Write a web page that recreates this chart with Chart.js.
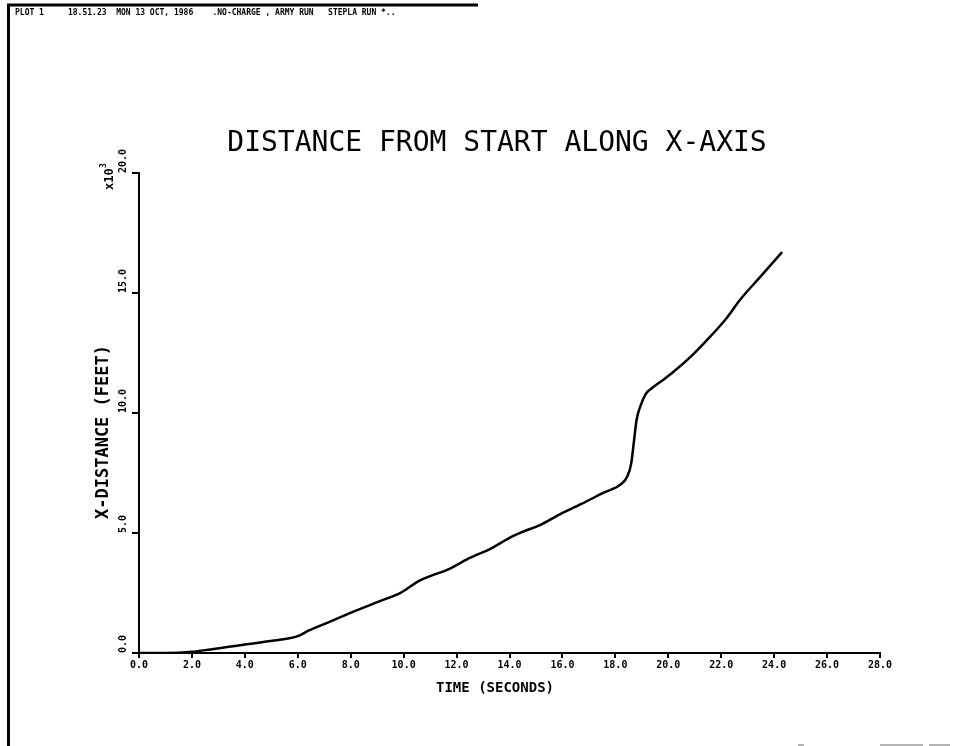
<!DOCTYPE html>
<html>
<head>
<meta charset="utf-8">
<script src="https://cdn.jsdelivr.net/npm/chart.js@4.4.1/dist/chart.umd.min.js"></script>
<style>
	html, body { margin:0; padding:0; background:#fff; }
</style>
</head>
<body>
<canvas id="distChart" width="953" height="746"></canvas>
<script>
// time along the run, seconds
var timeSec = [
	0.0, 1.0, 2.0, 2.7, 3.4, 4.0, 4.7, 5.4, 6.0, 6.4,
	7.2, 8.1, 9.0, 9.9, 10.6, 11.0, 11.75, 12.5, 13.3, 14.0,
	14.5, 15.15, 15.9, 16.7, 17.5, 18.25, 18.45, 18.6, 18.7, 18.8,
	18.95, 19.15, 19.4, 19.8, 20.2, 20.9, 21.6, 22.2, 22.7, 23.5,
	24.3
]
// x-distance from start, thousands of feet
var distKft = [
	0.0, 0.0, 0.05, 0.15, 0.26, 0.35, 0.46, 0.56, 0.7, 0.93,
	1.3, 1.72, 2.12, 2.52, 3.02, 3.2, 3.52, 3.96, 4.35, 4.8,
	5.05, 5.33, 5.78, 6.2, 6.65, 7.07, 7.35, 7.9, 8.8, 9.7,
	10.3, 10.8, 11.05, 11.38, 11.72, 12.4, 13.2, 13.95, 14.7, 15.7,
	16.7
]
var yTickVals = [0, 5, 10, 15, 20]

var headerText = 'PLOT 1     18.51.23  MON 13 OCT, 1986    .NO-CHARGE , ARMY RUN   STEPLA RUN *..'
var titleText = 'DISTANCE FROM START ALONG X-AXIS'
var xTitle = 'TIME (SECONDS)'
var yTitle = 'X-DISTANCE (FEET)'

var MONO = '"DejaVu Sans Mono", monospace'

function getPoints() {
	var pts = []
	for( var i = 0; i < timeSec.length; i++ ) {
		pts.push({ x:timeSec[i], y:distKft[i] })
	}
	return pts
}

// frame, header line, titles and the sideways y labels
var plotterText = {
	id: 'plotterText',
	afterDraw: function( chart ) {
		var ctx = chart.ctx
		var ys = chart.scales.y
		ctx.save()
		ctx.fillStyle = '#000'
		ctx.strokeStyle = '#000'

		// page border, left and top
		ctx.lineWidth = 3
		ctx.beginPath()
		ctx.moveTo(8.5, 746)
		ctx.lineTo(8.5, 5)
		ctx.lineTo(478, 5)
		ctx.stroke()

		ctx.font = 'bold 8px ' + MONO
		ctx.textBaseline = 'middle'
		ctx.textAlign = 'left'
		ctx.fillText(headerText, 15, 13)

		ctx.font = '28px ' + MONO
		ctx.textAlign = 'center'
		ctx.fillText(titleText, 497, 144)

		ctx.font = 'bold 14px ' + MONO
		ctx.fillText(xTitle, 495, 688)

		// rotated text on the left of the y axis
		ctx.save()
		ctx.translate(104, 432)
		ctx.rotate(-Math.PI / 2)
		ctx.font = 'bold 17px ' + MONO
		ctx.textAlign = 'center'
		ctx.fillText(yTitle, 0, 0)
		ctx.restore()

		ctx.font = 'bold 10px ' + MONO
		for( var i = 0; i < yTickVals.length; i++ ) {
			var py = ys.getPixelForValue(yTickVals[i])
			ctx.save()
			ctx.translate(123, py)
			ctx.rotate(-Math.PI / 2)
			ctx.textAlign = 'left'
			ctx.fillText(yTickVals[i].toFixed(1), 0, 0)
			ctx.restore()
		}

		// multiplier
		ctx.save()
		ctx.translate(110, ys.getPixelForValue(20) + 17)
		ctx.rotate(-Math.PI / 2)
		ctx.font = 'bold 12px ' + MONO
		ctx.textAlign = 'left'
		ctx.fillText('x10', 0, 0)
		ctx.font = 'bold 8px ' + MONO
		ctx.fillText('3', 22, -6)
		ctx.restore()

		// scanner marks along the bottom edge
		ctx.fillStyle = '#b4b4b4'
		ctx.fillRect(798, 744, 6, 2)
		ctx.fillRect(880, 744, 43, 2)
		ctx.fillRect(929, 744, 21, 2)

		ctx.restore()
	}
}

var config = {
	type: 'line',
	data: {
		datasets: [
			{
				label: 'x-distance',
				data: getPoints(),
				borderColor: '#000',
				borderWidth: 2.5,
				pointRadius: 0,
				fill: false,
				cubicInterpolationMode: 'monotone'
			}
		]
	},
	options: {
		responsive: false,
		animation: false,
		layout: { padding: { left:0, right:73, top:173, bottom:0 } },
		plugins: {
			legend: { display:false },
			tooltip: { enabled:false },
			title: { display:false }
		},
		scales: {
			x: {
				type: 'linear',
				min: 0,
				max: 28,
				ticks: {
					stepSize: 2,
					color: '#000',
					padding: 1,
					maxRotation: 0,
					font: { family: MONO, size: 10, weight: 'bold' },
					callback: function( v ) { return v.toFixed(1) }
				},
				grid: { drawOnChartArea:false, drawTicks:true, tickLength:5, color:'#000', lineWidth:2 },
				border: { display:true, color:'#000', width:2 },
				afterFit: function( scale ) { scale.height = 93 }
			},
			y: {
				type: 'linear',
				min: 0,
				max: 20,
				ticks: { stepSize:5, display:false },
				grid: { drawOnChartArea:false, drawTicks:true, tickLength:7, color:'#000', lineWidth:2 },
				border: { display:true, color:'#000', width:2 },
				afterFit: function( scale ) { scale.width = 139 }
			}
		}
	},
	plugins: [plotterText]
}

var ctx = document.getElementById('distChart')
var myChart = new Chart( ctx, config )
</script>
</body>
</html>
